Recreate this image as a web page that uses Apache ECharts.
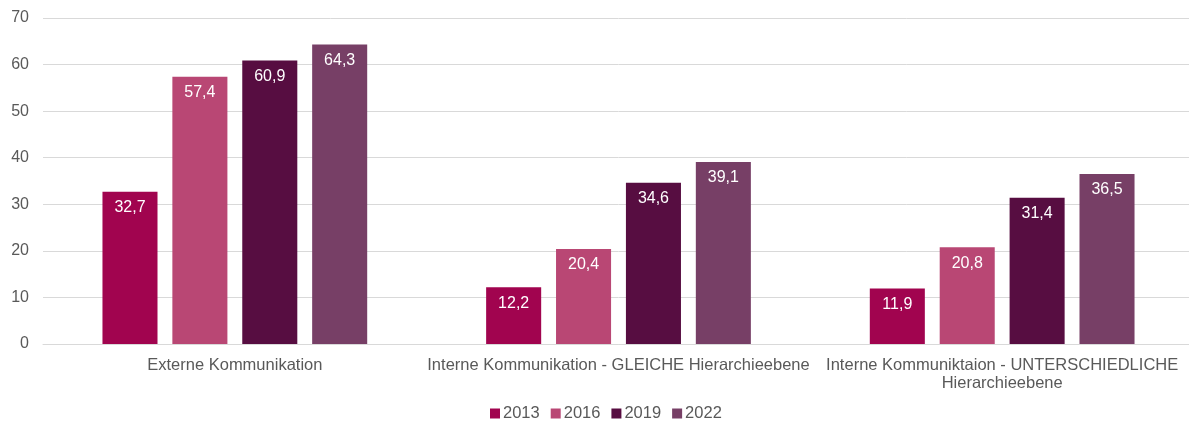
<!DOCTYPE html>
<html>
<head>
<meta charset="utf-8">
<script src="https://cdn.jsdelivr.net/npm/echarts@6/dist/echarts.min.js"></script>
<style>
html,body{margin:0;padding:0;background:#fff;overflow:hidden;}
#chart{width:1200px;height:425px;}
</style>
</head>
<body>
<div id="chart"></div>
<script>
const categories = [
  'Externe Kommunikation',
  'Interne Kommunikation - GLEICHE Hierarchieebene',
  'Interne Kommuniktaion - UNTERSCHIEDLICHE\nHierarchieebene'
];
const years = ['2013', '2016', '2019', '2022'];
const v2013 = [32.7, 12.2, 11.9];
const v2016 = [57.4, 20.4, 20.8];
const v2019 = [60.9, 34.6, 31.4];
const v2022 = [64.3, 39.1, 36.5];
const yTicks = [0, 10, 20, 30, 40, 50, 60, 70];

const colors = ['#a1044f', '#b94774', '#570d41', '#773f66'];
const seriesValues = [v2013, v2016, v2019, v2022];

const chart = echarts.init(document.getElementById('chart'));
chart.setOption({
  animation: false,
  textStyle: { fontFamily: 'Liberation Sans, Arial, sans-serif' },
  grid: { left: 43, right: 6, top: 18, bottom: 81, containLabel: false },
  legend: {
    bottom: 3,
    left: 490,
    padding: 0,
    itemWidth: 10,
    itemHeight: 10,
    itemGap: 11,
    icon: 'rect',
    textStyle: { color: '#595959', fontSize: 16.5, padding: [0, 0, 0, -2] },
    data: years
  },
  xAxis: {
    type: 'category',
    data: categories,
    axisLine: { lineStyle: { color: '#d9d9d9' } },
    axisTick: { show: false },
    axisLabel: { color: '#595959', fontSize: 16.5, margin: 12, lineHeight: 18, interval: 0 }
  },
  yAxis: {
    type: 'value',
    min: yTicks[0],
    max: yTicks[yTicks.length - 1],
    interval: 10,
    axisLine: { show: false },
    axisTick: { show: false },
    axisLabel: { color: '#595959', fontSize: 16, margin: 14 },
    splitLine: { lineStyle: { color: '#d9d9d9' } }
  },
  series: years.map((y, i) => ({
    name: y,
    type: 'bar',
    data: seriesValues[i],
    barGap: '27%',
    barCategoryGap: '31%',
    itemStyle: { color: colors[i] },
    label: {
      show: true,
      position: 'insideTop',
      distance: 8,
      color: '#ffffff',
      fontSize: 16,
      formatter: p => String(p.value).replace('.', ',')
    }
  }))
});
</script>
</body>
</html>
